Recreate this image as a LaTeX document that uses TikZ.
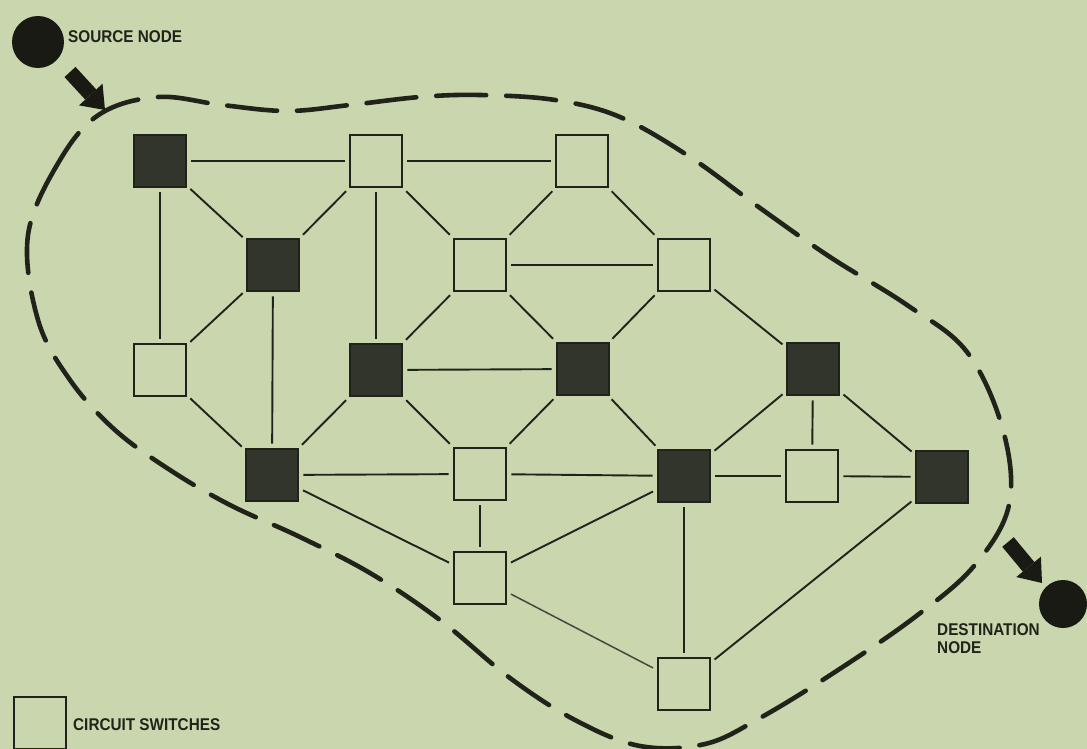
\documentclass[tikz,border=0pt]{standalone}
\usepackage{fontspec}
\newfontfamily\labfont[FakeStretch=0.9]{Liberation Sans Bold}
\usetikzlibrary{arrows.meta}
\definecolor{bg}{RGB}{202,214,173}
\definecolor{lc}{RGB}{33,35,26}
\definecolor{dk}{RGB}{50,53,44}
\definecolor{ball}{RGB}{24,26,19}
\definecolor{lite}{RGB}{70,72,58}
\tikzset{
  sw/.style={draw=lc, line width=2.8pt, minimum size=52pt, inner sep=0pt},
  swon/.style={sw, fill=dk},
  edge/.style={draw=lc, line width=1.9pt, shorten >=4pt, shorten <=4pt},
  blob/.style={draw=lc, line width=4.6pt, dash pattern=on 50pt off 20pt, line cap=round},
  lab/.style={inner sep=0pt, font=\labfont\fontsize{17}{18}\selectfont, text=lc},
  ballnode/.style={circle, fill=ball, inner sep=0pt},
  blockarrow/.style={draw=ball, line width=15pt, -{Triangle[width=32pt,length=21pt,line width=0pt]}}
}
\begin{document}
\begin{tikzpicture}[x=1pt,y=-1pt]
\fill[bg] (0,0) rectangle (1087,749);
\useasboundingbox (0,0) rectangle (1087,749);
\clip (0,0) rectangle (1087,749);

% enclosing dashed boundary
\draw[blob] plot[smooth cycle, tension=0.6] coordinates {
 (100,114) (60,160) (28,235) (38,320) (70,380) (115,430) (170,470) (230,505)
 (300,537) (370,573) (440,620) (510,678) (575,720) (640,746) (705,744) (760,718)
 (835,672) (915,617) (974,566) (1009,505) (1003,430) (967,352) (907,305)
 (830,257) (760,208) (690,157) (620,117) (555,100) (480,95) (420,97)
 (350,105) (287,111) (222,105) (158,97)};

% switches
\node[swon] (A) at (160,161) {};
\node[sw]   (B) at (376,161) {};
\node[sw]   (C) at (582,161) {};
\node[swon] (D) at (273,265) {};
\node[sw]   (E) at (480,265) {};
\node[sw]   (F) at (684,265) {};
\node[sw]   (G) at (160,370) {};
\node[swon] (H) at (376,370) {};
\node[swon] (I) at (583,369) {};
\node[swon] (J) at (813,369) {};
\node[swon] (K) at (272,475) {};
\node[sw]   (L) at (480,474) {};
\node[swon] (M) at (684,476) {};
\node[sw]   (N) at (812,476) {};
\node[swon] (O) at (942,477) {};
\node[sw]   (P) at (480,578) {};
\node[sw]   (Q) at (684,684) {};

% links
\draw[edge] (A) -- (B);
\draw[edge] (B) -- (C);
\draw[edge] (A) -- (G);
\draw[edge] (A) -- (D);
\draw[edge] (B) -- (D);
\draw[edge] (B) -- (H);
\draw[edge] (B) -- (E);
\draw[edge] (C) -- (E);
\draw[edge] (C) -- (F);
\draw[edge] (E) -- (F);
\draw[edge] (D) -- (G);
\draw[edge] (D) -- (K);
\draw[edge] (E) -- (H);
\draw[edge] (E) -- (I);
\draw[edge] (F) -- (I);
\draw[edge] (F) -- (J);
\draw[edge] (H) -- (I);
\draw[edge] (H) -- (K);
\draw[edge] (H) -- (L);
\draw[edge] (G) -- (K);
\draw[edge] (I) -- (L);
\draw[edge] (I) -- (M);
\draw[edge] (J) -- (M);
\draw[edge] (J) -- (N);
\draw[edge] (J) -- (O);
\draw[edge] (K) -- (L);
\draw[edge] (L) -- (M);
\draw[edge] (M) -- (N);
\draw[edge] (N) -- (O);
\draw[edge] (L) -- (P);
\draw[edge] (K) -- (P);
\draw[edge] (P) -- (M);
\draw[edge, draw=lite, line width=1.5pt] (P) -- (Q);
\draw[edge] (M) -- (Q);
\draw[edge] (Q) -- (O);

% source
\node[ballnode, minimum size=52pt] (src) at (38,42) {};
\node[lab, anchor=west] (srclab) at (68,37) {SOURCE NODE};
\coordinate (sa) at (70,72);
\coordinate (sb) at (105,110);
\draw[blockarrow] (sa) -- (sb);

% destination
\node[ballnode, minimum size=48pt] (dst) at (1063,604) {};
\node[lab, anchor=west, align=left] (dstlab) at (937,639) {DESTINATION\\NODE};
\coordinate (da) at (1008,542);
\coordinate (db) at (1042,583);
\draw[blockarrow] (da) -- (db);

% legend
\node[sw] (leg) at (40,723) {};
\node[lab, anchor=west] (leglab) at (73,725) {CIRCUIT SWITCHES};
\end{tikzpicture}
\end{document}
